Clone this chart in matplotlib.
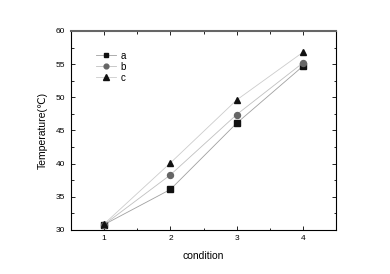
import numpy as np
import matplotlib
matplotlib.use("Agg")
import matplotlib.pyplot as plt
from matplotlib.ticker import MultipleLocator

plt.rcParams['font.family'] = ['Liberation Sans', 'DejaVu Sans']

condition = [1, 2, 3, 4]
temp_a = [30.8, 36.1, 46.1, 54.7]
temp_b = [30.8, 38.3, 47.4, 55.2]
temp_c = [30.9, 40.1, 49.6, 56.8]

fig = plt.figure(figsize=(3.9, 2.74), dpi=100)
ax = fig.add_axes([0.182, 0.161, 0.68, 0.726])

ax.plot(condition, temp_a, '-', color='#a0a0a0', lw=0.6, marker='s', ms=3.8,
        mfc='#111111', mec='#111111', label='a')
ax.plot(condition, temp_b, '-', color='#c0c0c0', lw=0.6, marker='o', ms=4.3,
        mfc='#666666', mec='#666666', label='b')
ax.plot(condition, temp_c, '-', color='#cccccc', lw=0.6, marker='^', ms=4.8,
        mfc='#111111', mec='#111111', label='c')

ax.set_xlim(0.5, 4.5)
ax.set_ylim(30, 60)
ax.xaxis.set_major_locator(MultipleLocator(1))
ax.xaxis.set_minor_locator(MultipleLocator(0.5))
ax.yaxis.set_major_locator(MultipleLocator(5))
ax.yaxis.set_minor_locator(MultipleLocator(2.5))
ax.tick_params(which='both', direction='in', top=True, right=True,
               labelsize=6, pad=4)
ax.tick_params(which='major', length=3, width=0.6)
ax.tick_params(which='minor', length=1.8, width=0.6)
for s in ax.spines.values():
    s.set_linewidth(0.8)
ax.spines['top'].set_color('#666666')
ax.spines['top'].set_linewidth(1.5)

ax.set_xlabel('condition', fontsize=7.5, labelpad=6)
ax.set_ylabel('Temperature(℃)', fontsize=7.5, labelpad=6)

leg = ax.legend(loc='upper left', bbox_to_anchor=(0.08, 0.92), frameon=False,
                fontsize=7, handlelength=2.0, handletextpad=0.5,
                labelspacing=0.1, borderaxespad=0, markerscale=0.8)

plt.savefig("out.png", dpi=100)
